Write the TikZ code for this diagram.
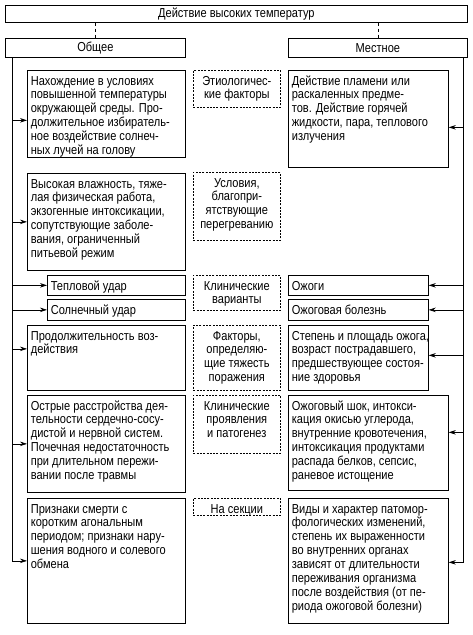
\documentclass[tikz,border=0pt]{standalone}
\usepackage{fontspec}
\setmainfont{Liberation Sans}[FakeStretch=0.85]
\usetikzlibrary{arrows.meta}
\newcommand{\cellfont}{\fontsize{13}{13.9}\selectfont}
% fixed-size text blocks, text at the top
\newcommand{\celltext}[3]{\parbox[t][#2pt][t]{#1pt}{\vspace*{3pt}\begin{tabular}[t]{@{}l@{}}#3\end{tabular}}}
\newcommand{\hinttext}[3]{\parbox[t][#2pt][t]{#1pt}{\vspace*{3pt}\centering\begin{tabular}[t]{@{}c@{}}#3\end{tabular}}}

\begin{document}
\begin{tikzpicture}[x=1pt, y=-1pt, >={Stealth[length=7pt,width=4.5pt]}, font=\cellfont,
    cell/.style={draw, line width=0.7pt, anchor=north west, inner xsep=3.5pt, inner ysep=2pt},
    hint/.style={cell, dash pattern=on 2pt off 1.3pt},
    head/.style={draw, line width=0.7pt, anchor=north west, inner sep=0pt},
    link/.style={line width=0.7pt}]
    \useasboundingbox (0,0) rectangle (472,635);

    \node[head, minimum width=462pt, minimum height=17pt] (title) at (5,5) {Действие высоких температур};
    \node[head, minimum width=180pt, minimum height=19pt] (general) at (5,38) {Общее};
    \node[head, minimum width=179pt, minimum height=19pt] (local) at (288,38) {Местное};

    % left column
    \node[cell] (lcause) at (27,70) {\celltext{151}{83}{Нахождение в условиях\\повышенной температуры\\окружающей среды. Про-\\должительное избиратель-\\ное воздействие солнеч-\\ных лучей на голову}};
    \node[cell] (lcond) at (27,173) {\celltext{151}{93}{Высокая влажность, тяже-\\лая физическая работа,\\экзогенные интоксикации,\\сопутствующие заболе-\\вания, ограниченный\\питьевой режим}};
    \node[cell] (lheat) at (47,275) {\celltext{131}{16}{Тепловой удар}};
    \node[cell] (lsun) at (47,299) {\celltext{131}{17}{Солнечный удар}};
    \node[cell] (ltime) at (27,325) {\celltext{151}{61}{Продолжительность воз-\\действия}};
    \node[cell] (lclinic) at (27,395) {\celltext{151}{93}{Острые расстройства дея-\\тельности сердечно-сосу-\\дистой и нервной систем.\\Почечная недостаточность\\при длительном пережи-\\вании после травмы}};
    \node[cell] (lautopsy) at (27,498) {\celltext{151}{121}{Признаки смерти с\\коротким агональным\\периодом; признаки нару-\\шения водного и солевого\\обмена}};

    % middle column
    \node[hint] (mcause) at (193,70) {\hinttext{80}{33}{Этиологичес-\\кие факторы}};
    \node[hint] (mcond) at (193,172) {\hinttext{80}{64}{Условия,\\благопри-\\ятствующие\\перегреванию}};
    \node[hint] (mvariant) at (193,275) {\hinttext{80}{31}{Клинические\\варианты}};
    \node[hint] (mfactor) at (193,325) {\hinttext{80}{61}{Факторы,\\определяю-\\щие тяжесть\\поражения}};
    \node[hint] (mclinic) at (193,395) {\hinttext{80}{54}{Клинические\\проявления\\и патогенез}};
    \node[hint] (mautopsy) at (193,498) {\hinttext{80}{13}{На секции}};

    % right column
    \node[cell] (rcause) at (288,70) {\celltext{153}{93}{Действие пламени или\\раскаленных предме-\\тов. Действие горячей\\жидкости, пара, теплового\\излучения}};
    \node[cell] (rburn) at (288,275) {\celltext{133}{16}{Ожоги}};
    \node[cell] (rdisease) at (288,299) {\celltext{133}{17}{Ожоговая болезнь}};
    \node[cell] (rfactor) at (288,325) {\celltext{133}{61}{Степень и площадь ожога,\\возраст пострадавшего,\\предшествующее состоя-\\ние здоровья}};
    \node[cell] (rclinic) at (288,395) {\celltext{153}{91}{Ожоговый шок, интокси-\\кация окисью углерода,\\внутренние кровотечения,\\интоксикация продуктами\\распада белков, сепсис,\\раневое истощение}};
    \node[cell] (rautopsy) at (288,498) {\celltext{153}{121}{Виды и характер патомор-\\фологических изменений,\\степень их выраженности\\во внутренних органах\\зависят от длительности\\переживания организма\\после воздействия (от пе-\\риода ожоговой болезни)}};

    % connectors
    \draw[link, dashed] (title.south -| general.north) -- (general.north);
    \draw[link, dashed] (title.south -| local.north) -- (local.north);

    \coordinate (lspine) at (12,57);
    \coordinate (rspine) at (463,57);
    \draw[link, ->] (lspine) |- (lautopsy.west);
    \foreach \n/\dy in {lcause/-6.5, lcond/0, lheat/0, lsun/0, ltime/9, lclinic/0} {
        \coordinate (tip) at ([yshift=\dy pt]\n.west);
        \draw[link, ->] (lspine |- tip) -- (tip);
    }
    \draw[link, ->] (rspine) |- ([yshift=-1.5pt]rautopsy.east);
    \foreach \n/\dy in {rcause/-8.5, rburn/0, rdisease/0, rfactor/2.5, rclinic/10.5} {
        \coordinate (tip) at ([yshift=\dy pt]\n.east);
        \draw[link, ->] (rspine |- tip) -- (tip);
    }
\end{tikzpicture}
\end{document}
